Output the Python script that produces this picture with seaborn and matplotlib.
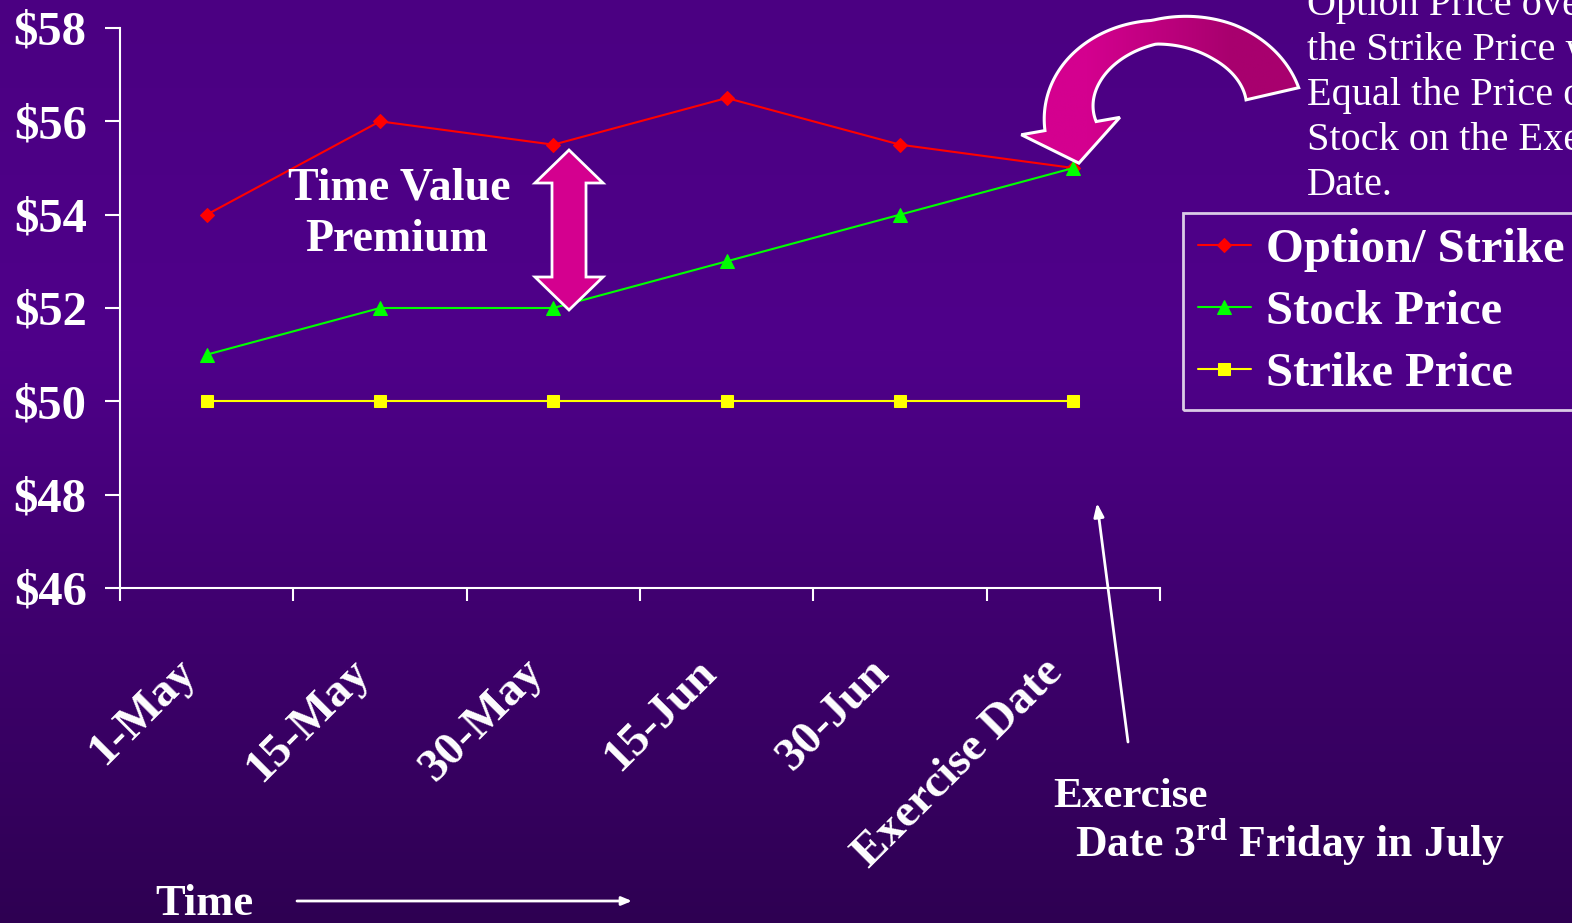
import numpy as np
import matplotlib
matplotlib.use('Agg')
import matplotlib.pyplot as plt
import matplotlib.transforms as mtransforms
import seaborn as sns
from matplotlib.patches import Polygon

# =============================================================================
# Data
# =============================================================================
dates = ['1-May', '15-May', '30-May', '15-Jun', '30-Jun', 'Exercise Date']
option_strike = [54, 56, 55.5, 56.5, 55.5, 55]
stock_price = [51, 52, 52, 53, 54, 55]
strike_price = [50, 50, 50, 50, 50, 50]
y_ticks = [46, 48, 50, 52, 54, 56, 58]

note_lines = ['Option Price over', 'the Strike Price will', 'Equal the Price of the',
              'Stock on the Exercise', 'Date.']

# =============================================================================
# Style
# =============================================================================
sns.set_style('white')
plt.rcParams['font.family'] = ['Liberation Serif', 'DejaVu Serif']
plt.rcParams['mathtext.fontset'] = 'custom'
plt.rcParams['mathtext.rm'] = 'Liberation Serif'
plt.rcParams['mathtext.bf'] = 'Liberation Serif:bold'

W, H = 1572, 923
fig = plt.figure(figsize=(W / 100, H / 100), dpi=100)

# gradient background
bg = fig.add_axes([0, 0, 1, 1], zorder=0)
rows = np.arange(H)
stops = [0, 350, 600, H]
r = np.interp(rows, stops, [75, 79, 64, 46])
g = np.zeros(H)
b = np.interp(rows, stops, [130, 138, 112, 82])
grad = np.stack([r, g, b], axis=1)[:, None, :] / 255.0
bg.imshow(grad, aspect='auto', extent=[0, 1, 0, 1])
bg.set_axis_off()

# main chart
ax = fig.add_axes([120 / W, 1 - 588 / H, (1160 - 120) / W, (588 - 28) / H], zorder=2)
ax.set_facecolor('none')
x_pos = np.arange(len(dates))

sns.lineplot(x=x_pos, y=option_strike, ax=ax, color='#FF0000', marker='D', markersize=7,
             markeredgecolor='#FF0000', linewidth=1.5, label='Option/ Strike')
sns.lineplot(x=x_pos, y=stock_price, ax=ax, color='#00FF00', marker='^', markersize=10,
             markeredgecolor='#00FF00', linewidth=1.5, label='Stock Price')
sns.lineplot(x=x_pos, y=strike_price, ax=ax, color='#FFFF00', marker='s', markersize=8,
             markeredgecolor='#FFFF00', linewidth=1.5, label='Strike Price')

ax.set_xlim(-0.5, len(dates) - 0.5)
ax.set_ylim(46, 58)
ax.set_yticks(y_ticks)
ax.set_yticklabels(['$%d' % v for v in y_ticks])
ax.set_xticks(x_pos)
ax.set_xticklabels(dates)
ax.set_xticks(np.arange(-0.5, len(dates)), minor=True)

for side in ['top', 'right']:
    ax.spines[side].set_visible(False)
for side in ['left', 'bottom']:
    ax.spines[side].set_color('white')
    ax.spines[side].set_linewidth(1.5)

ax.tick_params(axis='y', direction='out', length=11, width=1.5, color='white',
               labelcolor='white', labelsize=35, pad=13, left=True)
ax.tick_params(axis='x', which='major', length=0, labelcolor='white', labelsize=34, pad=56,
               bottom=True)
ax.tick_params(axis='x', which='minor', direction='out', length=9, width=1.5, color='white',
               bottom=True)
for lab in ax.get_yticklabels():
    lab.set_fontweight('bold')
shift = mtransforms.ScaledTranslation(-0.17, 0, fig.dpi_scale_trans)
for lab in ax.get_xticklabels():
    lab.set_fontweight('bold')
    lab.set_rotation(45)
    lab.set_ha('right')
    lab.set_va('center')
    lab.set_rotation_mode('anchor')
    lab.set_transform(lab.get_transform() + shift)

ax.set_xlabel('')
ax.set_ylabel('')

leg = ax.legend(loc='upper left', bbox_to_anchor=(1183 / W, 1 - 213 / H),
                bbox_transform=fig.transFigure, borderaxespad=0, frameon=True,
                fancybox=False, prop={'size': 35, 'weight': 'bold'},
                handlelength=1.1, handletextpad=0.3, labelspacing=0.37, borderpad=0.3)
leg.get_frame().set_facecolor('none')
leg.get_frame().set_edgecolor('white')
leg.get_frame().set_linewidth(2)
for t in leg.get_texts():
    t.set_color('white')

# =============================================================================
# Annotations (pixel overlay)
# =============================================================================
ov = fig.add_axes([0, 0, 1, 1], zorder=3)
ov.set_axis_off()
ov.patch.set_alpha(0)

# double headed arrow for time value premium
dbl = [(569, 150), (603, 183), (586, 183), (586, 277), (603, 277), (569, 310),
       (535, 277), (552, 277), (552, 183), (535, 183)]
ov.add_patch(Polygon(dbl, closed=True, facecolor='#D4008F', edgecolor='white', linewidth=2))

# curved block arrow pointing at the exercise date (thinner over the top)
cx, cy, rx, ry = 1172, 112, 103, 81
hw_head, head_len = 50, 38
t_tail, t_head = np.radians(13), np.radians(190)
th = np.linspace(t_tail, t_head, 100)
hw = np.interp(np.degrees(th), [13, 60, 100, 150, 190], [27, 20, 12, 20, 26])
outer = np.column_stack([cx + (rx + hw) * np.cos(th), cy - (ry + hw) * np.sin(th)])
inner = np.column_stack([cx + (rx - hw) * np.cos(th), cy - (ry - hw) * np.sin(th)])
base = np.array([cx + rx * np.cos(t_head), cy - ry * np.sin(t_head)])
tang = np.array([-rx * np.sin(t_head), -ry * np.cos(t_head)])
tang = tang / np.hypot(*tang)
tip = base + head_len * tang
barb_out = [cx + (rx + hw_head) * np.cos(t_head), cy - (ry + hw_head) * np.sin(t_head)]
barb_in = [cx + (rx - hw_head) * np.cos(t_head), cy - (ry - hw_head) * np.sin(t_head)]
shape = np.vstack([outer, [barb_out], [tip], [barb_in], inner[::-1]])
curve_patch = Polygon(shape, closed=True, facecolor='none', edgecolor='white', linewidth=2.2,
                      zorder=5)
ov.add_patch(curve_patch)
fill = np.array([[[212, 0, 143], [168, 0, 110]]]) / 255.0
im = ov.imshow(fill, extent=(1015, 1305, 180, 0), aspect='auto', interpolation='bilinear',
               zorder=4)
im.set_clip_path(curve_patch)

ov.text(399, 200, 'Time Value', color='white', fontsize=33, fontweight='bold', ha='center',
        va='baseline')
ov.text(397, 251, 'Premium', color='white', fontsize=33, fontweight='bold', ha='center',
        va='baseline')

for i, line in enumerate(note_lines):
    ov.text(1307, 15 + 45 * i, line, color='white', fontsize=29, ha='left', va='baseline')

ov.text(1053, 807, 'Exercise', color='white', fontsize=31, fontweight='bold', va='baseline')
ov.text(1075, 858, r'Date 3$^{\mathbf{rd}}$ Friday in July', color='white', fontsize=31.5,
        fontweight='bold', va='baseline')

ov.annotate('', xy=(1097, 503), xytext=(1128, 742),
            arrowprops=dict(arrowstyle='-|>,head_length=0.8,head_width=0.3', color='white',
                            linewidth=2, shrinkA=0, shrinkB=0))

ov.text(155, 915, 'Time', color='white', fontsize=32, fontweight='bold', va='baseline')
ov.annotate('', xy=(632, 901), xytext=(297, 901),
            arrowprops=dict(arrowstyle='-|>,head_length=0.6,head_width=0.25', color='white',
                            linewidth=2, shrinkA=0, shrinkB=0))

ov.set_xlim(0, W)
ov.set_ylim(H, 0)

plt.savefig('out.png', dpi=100)
